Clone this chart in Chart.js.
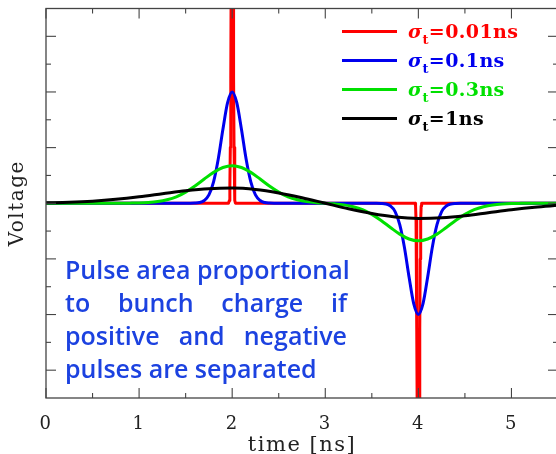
<!DOCTYPE html>
<html><head><meta charset="utf-8">
<script src="https://cdn.jsdelivr.net/npm/chart.js@4.4.0/dist/chart.umd.min.js"></script>
<style>
html,body{margin:0;padding:0;background:#fff;overflow:hidden;}
#wrap{position:relative;width:562px;height:454px;}
#c{position:absolute;left:0;top:0;}
.ln{position:absolute;left:342px;width:55px;height:2.5px;}
.tx{position:absolute;left:408px;font-family:"DejaVu Serif";font-weight:bold;font-size:19px;line-height:20px;letter-spacing:0.4px;white-space:nowrap;}
.tx sub{font-size:13px;vertical-align:-6px;line-height:0;}
#note{position:absolute;left:65px;top:253px;width:282px;font-family:"Open Sans";font-weight:600;font-size:25px;color:#1c42e0;line-height:33px;}
#note .j{text-align:justify;text-align-last:justify;white-space:nowrap;}
</style></head><body>
<div id="wrap">
<canvas id="c" width="562" height="454"></canvas>
<div class="ln" style="top:30px;background:#ff0000"></div>
<div class="tx" style="top:21px;color:#ff0000"><i>σ</i><sub>t</sub>=0.01ns</div>
<div class="ln" style="top:59px;background:#0000ee"></div>
<div class="tx" style="top:50px;color:#0000ee"><i>σ</i><sub>t</sub>=0.1ns</div>
<div class="ln" style="top:88px;background:#00e000"></div>
<div class="tx" style="top:79px;color:#00e000"><i>σ</i><sub>t</sub>=0.3ns</div>
<div class="ln" style="top:117px;background:#000"></div>
<div class="tx" style="top:108px;color:#000"><i>σ</i><sub>t</sub>=1ns</div>
<div id="note">
<div class="j">Pulse area proportional</div>
<div class="j">to bunch charge if</div>
<div class="j">positive and negative</div>
<div>pulses are separated</div>
</div>
</div>
<script>
// time axis (ns)
const xTickValues = [0, 1, 2, 3, 4, 5];
const xTickLabels = ['0', '1', '2', '3', '4', '5'];
const xMinorTicks = [0.5, 1.5, 2.5, 3.5, 4.5, 5.5];
const yMajorTicks = [-6, -4, -2, 0, 2, 4, 6];
const yMinorTicks = [-5, -3, -1, 1, 3, 5];

// sigma_t = 0.01 ns
const redT = [0, 1.96, 1.965, 1.97, 1.975, 1.98, 1.985, 1.99, 1.995, 2.0, 2.005, 2.01, 2.015, 2.02, 2.025, 2.03, 2.035, 2.04,
              3.96, 3.965, 3.97, 3.975, 3.98, 3.985, 3.99, 3.995, 4.0, 4.005, 4.01, 4.015, 4.02, 4.025, 4.03, 4.035, 4.04, 5.5];
const redV = [0, 0, 0, 0.1, 0.6, 2.0, 4.5, 9, 20, 40, 20, 9, 4.5, 2.0, 0.6, 0.1, 0, 0,
              0, 0, -0.1, -0.6, -2.0, -4.5, -9, -20, -40, -20, -9, -4.5, -2.0, -0.6, -0.1, 0, 0, 0];

// sigma_t = 0.1 ns
const blueT = [0, 1.55, 1.6, 1.65, 1.7, 1.75, 1.8, 1.85, 1.9, 1.95, 2.0, 2.05, 2.1, 2.15, 2.2, 2.25, 2.3, 2.35, 2.4, 2.45,
               3.55, 3.6, 3.65, 3.7, 3.75, 3.8, 3.85, 3.9, 3.95, 4.0, 4.05, 4.1, 4.15, 4.2, 4.25, 4.3, 4.35, 4.4, 4.45, 5.5];
const blueV = [0, 0, 0.005, 0.025, 0.10, 0.30, 0.77, 1.58, 2.65, 3.61, 4.0, 3.61, 2.65, 1.58, 0.77, 0.30, 0.10, 0.025, 0.005, 0,
               0, -0.005, -0.025, -0.10, -0.30, -0.77, -1.58, -2.65, -3.61, -4.0, -3.61, -2.65, -1.58, -0.77, -0.30, -0.10, -0.025, -0.005, 0, 0];

// sigma_t = 0.3 ns
const greenT = [0, 0.8, 0.9, 1.0, 1.1, 1.2, 1.3, 1.4, 1.5, 1.6, 1.7, 1.8, 1.9, 2.0, 2.1, 2.2, 2.3, 2.4, 2.5, 2.6, 2.7, 2.8, 2.9,
                3.0, 3.1, 3.2, 3.3, 3.4, 3.5, 3.6, 3.7, 3.8, 3.9, 4.0, 4.1, 4.2, 4.3, 4.4, 4.5, 4.6, 4.7, 4.8, 4.9, 5.0, 5.1, 5.2, 5.5];
const greenV = [0, 0.001, 0.004, 0.010, 0.026, 0.059, 0.124, 0.23, 0.40, 0.62, 0.87, 1.11, 1.285, 1.35, 1.285, 1.11, 0.87, 0.62, 0.40, 0.23, 0.124, 0.058, 0.022,
                0, -0.022, -0.058, -0.124, -0.23, -0.40, -0.62, -0.87, -1.11, -1.285, -1.35, -1.285, -1.11, -0.87, -0.62, -0.40, -0.23, -0.124, -0.059, -0.026, -0.010, -0.004, -0.001, 0];

// sigma_t = 1 ns
const blackT = [0, 0.25, 0.5, 0.75, 1.0, 1.25, 1.5, 1.75, 2.0, 2.25, 2.5, 2.75, 3.0, 3.25, 3.5, 3.75, 4.0, 4.25, 4.5, 4.75, 5.0, 5.25, 5.5];
const blackV = [0.016, 0.037, 0.076, 0.14, 0.23, 0.34, 0.45, 0.524, 0.544, 0.493, 0.37, 0.20, 0, -0.20, -0.37, -0.493, -0.544, -0.524, -0.45, -0.34, -0.23, -0.14, -0.076];

const pts = (t, v) => t.map((x, i) => ({x: x, y: v[i]}));
const SERIF = '"DejaVu Serif", serif';

const spacingPlugin = {
  id: 'spacing',
  beforeDraw(chart) { chart.ctx.letterSpacing = '1.5px'; }
};

const framePlugin = {
  id: 'frame',
  afterDatasetsDraw(chart) {
    const {ctx, chartArea: a, scales: {x, y}} = chart;
    ctx.save();
    ctx.strokeStyle = '#444';
    ctx.lineWidth = 1.3;
    ctx.strokeRect(a.left, a.top, a.right - a.left, a.bottom - a.top);
    const seg = (x1, y1, x2, y2) => { ctx.beginPath(); ctx.moveTo(x1, y1); ctx.lineTo(x2, y2); ctx.stroke(); };
    ctx.lineWidth = 1.1;
    xTickValues.forEach(v => { const p = x.getPixelForValue(v); seg(p, a.bottom, p, a.bottom - 10); seg(p, a.top, p, a.top + 10); });
    xMinorTicks.forEach(v => { const p = x.getPixelForValue(v); seg(p, a.bottom, p, a.bottom - 5); seg(p, a.top, p, a.top + 5); });
    yMajorTicks.forEach(v => { const p = y.getPixelForValue(v); seg(a.left, p, a.left + 10, p); seg(a.right, p, a.right - 10, p); });
    yMinorTicks.forEach(v => { const p = y.getPixelForValue(v); seg(a.left, p, a.left + 5, p); seg(a.right, p, a.right - 5, p); });
    ctx.restore();
  }
};

const common = {fill: false, pointRadius: 0, borderWidth: 3, borderJoinStyle: 'round', clip: 0};
new Chart(document.getElementById('c'), {
  type: 'line',
  data: {
    datasets: [
      Object.assign({label: 'σt=0.01ns', data: pts(redT, redV), borderColor: '#ff0000', tension: 0, order: 4}, common),
      Object.assign({label: 'σt=0.1ns', data: pts(blueT, blueV), borderColor: '#0000ee', cubicInterpolationMode: 'monotone', order: 3}, common),
      Object.assign({label: 'σt=0.3ns', data: pts(greenT, greenV), borderColor: '#00e000', cubicInterpolationMode: 'monotone', order: 2}, common),
      Object.assign({label: 'σt=1ns', data: pts(blackT, blackV), borderColor: '#000000', cubicInterpolationMode: 'monotone', order: 1}, common)
    ]
  },
  options: {
    responsive: false,
    animation: false,
    devicePixelRatio: 1,
    layout: {padding: {top: 8.5, right: 4, bottom: 0, left: 0}},
    plugins: {legend: {display: false}, tooltip: {enabled: false}},
    scales: {
      x: {
        type: 'linear', min: 0, max: 5.5,
        grid: {display: false, drawTicks: false},
        border: {display: false},
        afterBuildTicks: s => { s.ticks = xTickValues.map(v => ({value: v})); },
        afterFit: s => { s.height = 56; },
        ticks: {
          autoSkip: false, maxRotation: 0, padding: 16, color: '#222',
          font: {family: SERIF, size: 18},
          callback: (v, i) => xTickLabels[i]
        },
        title: {display: true, text: 'time [ns]', color: '#222', padding: 0, font: {family: SERIF, size: 21, lineHeight: 0.8}}
      },
      y: {
        type: 'linear', min: -7, max: 7,
        grid: {display: false, drawTicks: false},
        border: {display: false},
        ticks: {display: false},
        afterFit: s => { s.width = 46; },
        title: {display: true, text: 'Voltage', color: '#222', padding: {top: 6, bottom: 0}, font: {family: SERIF, size: 20}}
      }
    }
  },
  plugins: [spacingPlugin, framePlugin]
});
</script>
</body></html>
